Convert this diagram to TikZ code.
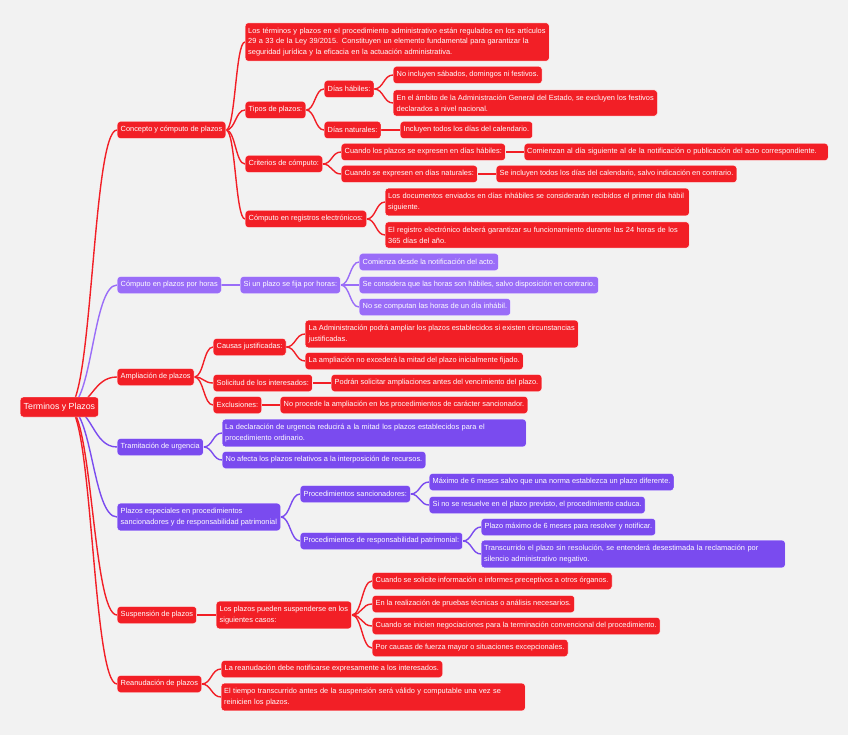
\documentclass[tikz,border=0pt]{standalone}
\usepackage{fontspec}
\setmainfont{Liberation Sans}
\usepackage{tikz}
\usetikzlibrary{calc,backgrounds}
\definecolor{mmred}{HTML}{F21F26}
\definecolor{mmlilac}{HTML}{9A6DF8}
\definecolor{mmviolet}{HTML}{7A4BEF}
\definecolor{mmbg}{HTML}{F2F2F2}

\begin{document}
\begin{tikzpicture}[x=1pt, y=-1pt,
    every node/.style={font=\fontsize{7.4}{10.7}\selectfont, text=white, anchor=west},
    box/.style={rounded corners=3pt, draw=white, line width=0.4pt,
                inner xsep=3.5pt, inner ysep=5pt, minimum height=17pt, align=left},
    redbox/.style={box, fill=mmred},
    lilbox/.style={box, fill=mmlilac},
    violbox/.style={box, fill=mmviolet},
    wide/.style={text width=298pt, inner xsep=3pt},
    redlink/.style={draw=mmred, line width=1.4pt},
    lillink/.style={draw=mmlilac, line width=1.4pt},
    viollink/.style={draw=mmviolet, line width=1.4pt},
    link/.style={to path={.. controls ($(\tikztostart)!0.5!(\tikztostart -| \tikztotarget)$)
                 and ($(\tikztotarget)!0.5!(\tikztotarget -| \tikztostart)$) .. (\tikztotarget)}}
]
\begin{pgfonlayer}{background}
\fill[mmbg] (0,0) rectangle (848,735);
\end{pgfonlayer}
\useasboundingbox (0,0) rectangle (848,735);

% root and main branches
\node[redbox, font=\fontsize{8.8}{11}\selectfont, minimum height=20pt] (root) at (20,407) {Terminos y Plazos};
\coordinate (hub) at (68,407);
\node[redbox]  (concepto) at (117,130) {Concepto y cómputo de plazos};
\node[lilbox]  (horas)    at (117,285) {Cómputo en plazos por horas};
\node[redbox]  (ampl)     at (117,377) {Ampliación de plazos};
\node[violbox] (urg)      at (117,447) {Tramitación de urgencia};
\node[violbox] (esp)      at (117,517) {Plazos especiales en procedimientos\\sancionadores y de responsabilidad patrimonial};
\node[redbox]  (susp)     at (117,615) {Suspensión de plazos};
\node[redbox]  (rean)     at (117,684) {Reanudación de plazos};

% concepto y computo
\node[redbox, wide] (regul) at (245,42) {Los términos y plazos en el procedimiento administrativo están regulados en los artículos\\29 a 33 de la Ley 39/2015. Constituyen un elemento fundamental para garantizar la\\seguridad jurídica y la eficacia en la actuación administrativa.};
\node[redbox] (tipos) at (245,110) {Tipos de plazos:};
\node[redbox] (crit)  at (245,164) {Criterios de cómputo:};
\node[redbox] (reg)   at (245,219) {Cómputo en registros electrónicos:};
\node[redbox] (habiles)   at (324,89)  {Días hábiles:};
\node[redbox] (naturales) at (324,130) {Días naturales:};
\node[redbox] (hab1) at (393,75)  {No incluyen sábados, domingos ni festivos.};
\node[redbox] (hab2) at (393,103) {En el ámbito de la Administración General del Estado, se excluyen los festivos\\declarados a nivel nacional.};
\node[redbox] (nat1) at (400,130) {Incluyen todos los días del calendario.};
\node[redbox] (crit1)  at (341,152) {Cuando los plazos se expresen en días hábiles:};
\node[redbox] (crit2)  at (341,174) {Cuando se expresen en días naturales:};
\node[redbox, wide] (crit1a) at (524,152) {Comienzan al día siguiente al de la notificación o publicación del acto correspondiente.};
\node[redbox] (crit2a) at (496,174) {Se incluyen todos los días del calendario, salvo indicación en contrario.};
\node[redbox, wide] (reg1) at (385,202) {Los documentos enviados en días inhábiles se considerarán recibidos el primer día hábil\\siguiente.};
\node[redbox, wide] (reg2) at (385,235) {El registro electrónico deberá garantizar su funcionamiento durante las 24 horas de los\\365 días del año.};

% horas
\node[lilbox] (hora)  at (240,285) {Si un plazo se fija por horas:};
\node[lilbox] (hora1) at (359,262) {Comienza desde la notificación del acto.};
\node[lilbox] (hora2) at (359,285) {Se considera que las horas son hábiles, salvo disposición en contrario.};
\node[lilbox] (hora3) at (359,307) {No se computan las horas de un día inhábil.};

% ampliacion
\node[redbox] (causas) at (213,347) {Causas justificadas:};
\node[redbox] (solic)  at (213,383) {Solicitud de los interesados:};
\node[redbox] (excl)   at (213,405) {Exclusiones:};
\node[redbox] (causas1) at (305,334) {La Administración podrá ampliar los plazos establecidos si existen circunstancias\\justificadas.};
\node[redbox] (causas2) at (305,361) {La ampliación no excederá la mitad del plazo inicialmente fijado.};
\node[redbox] (solic1)  at (331,383) {Podrán solicitar ampliaciones antes del vencimiento del plazo.};
\node[redbox] (excl1)   at (280,405) {No procede la ampliación en los procedimientos de carácter sancionador.};

% urgencia
\node[violbox, wide] (urg1) at (222,433) {La declaración de urgencia reducirá a la mitad los plazos establecidos para el\\procedimiento ordinario.};
\node[violbox] (urg2) at (222,460) {No afecta los plazos relativos a la interposición de recursos.};

% plazos especiales
\node[violbox] (sanc)  at (300,494) {Procedimientos sancionadores:};
\node[violbox] (resp)  at (300,541) {Procedimientos de responsabilidad patrimonial:};
\node[violbox] (sanc1) at (429,482) {Máximo de 6 meses salvo que una norma establezca un plazo diferente.};
\node[violbox] (sanc2) at (429,505) {Si no se resuelve en el plazo previsto, el procedimiento caduca.};
\node[violbox] (resp1) at (481,527) {Plazo máximo de 6 meses para resolver y notificar.};
\node[violbox, wide] (resp2) at (481,554) {Transcurrido el plazo sin resolución, se entenderá desestimada la reclamación por\\silencio administrativo negativo.};

% suspension
\node[redbox] (casos) at (216,615) {Los plazos pueden suspenderse en los\\siguientes casos:};
\node[redbox] (caso1) at (372,581) {Cuando se solicite información o informes preceptivos a otros órganos.};
\node[redbox] (caso2) at (372,604) {En la realización de pruebas técnicas o análisis necesarios.};
\node[redbox] (caso3) at (372,626) {Cuando se inicien negociaciones para la terminación convencional del procedimiento.};
\node[redbox] (caso4) at (372,648) {Por causas de fuerza mayor o situaciones excepcionales.};

% reanudacion
\node[redbox] (rean1) at (221,669) {La reanudación debe notificarse expresamente a los interesados.};
\node[redbox, wide] (rean2) at (221,697) {El tiempo transcurrido antes de la suspensión será válido y computable una vez se\\reinicien los plazos.};

% connectors
\begin{pgfonlayer}{background}
\draw[redlink]  (hub) to[link] (concepto.west);
\draw[lillink]  (hub) to[link] (horas.west);
\draw[redlink]  (hub) to[link] (ampl.west);
\draw[viollink] (hub) to[link] (urg.west);
\draw[viollink] (hub) to[link] (esp.west);
\draw[redlink]  (hub) to[link] (susp.west);
\draw[redlink]  (hub) to[link] (rean.west);

\draw[redlink] (concepto.east) to[link] (regul.west);
\draw[redlink] (concepto.east) to[link] (tipos.west);
\draw[redlink] (concepto.east) to[link] (crit.west);
\draw[redlink] (concepto.east) to[link] (reg.west);
\draw[redlink] (tipos.east) to[link] (habiles.west);
\draw[redlink] (tipos.east) to[link] (naturales.west);
\draw[redlink] (habiles.east) to[link] (hab1.west);
\draw[redlink] (habiles.east) to[link] (hab2.west);
\draw[redlink] (naturales.east) -- (nat1.west);
\draw[redlink] (crit.east) to[link] (crit1.west);
\draw[redlink] (crit.east) to[link] (crit2.west);
\draw[redlink] (crit1.east) -- (crit1a.west);
\draw[redlink] (crit2.east) -- (crit2a.west);
\draw[redlink] (reg.east) to[link] (reg1.west);
\draw[redlink] (reg.east) to[link] (reg2.west);

\draw[lillink] (horas.east) -- (hora.west);
\draw[lillink] (hora.east) to[link] (hora1.west);
\draw[lillink] (hora.east) to[link] (hora2.west);
\draw[lillink] (hora.east) to[link] (hora3.west);

\draw[redlink] (ampl.east) to[link] (causas.west);
\draw[redlink] (ampl.east) to[link] (solic.west);
\draw[redlink] (ampl.east) to[link] (excl.west);
\draw[redlink] (causas.east) to[link] (causas1.west);
\draw[redlink] (causas.east) to[link] (causas2.west);
\draw[redlink] (solic.east) -- (solic1.west);
\draw[redlink] (excl.east) -- (excl1.west);

\draw[viollink] (urg.east) to[link] (urg1.west);
\draw[viollink] (urg.east) to[link] (urg2.west);

\draw[viollink] (esp.east) to[link] (sanc.west);
\draw[viollink] (esp.east) to[link] (resp.west);
\draw[viollink] (sanc.east) to[link] (sanc1.west);
\draw[viollink] (sanc.east) to[link] (sanc2.west);
\draw[viollink] (resp.east) to[link] (resp1.west);
\draw[viollink] (resp.east) to[link] (resp2.west);

\draw[redlink] (susp.east) -- (casos.west);
\draw[redlink] (casos.east) to[link] (caso1.west);
\draw[redlink] (casos.east) to[link] (caso2.west);
\draw[redlink] (casos.east) to[link] (caso3.west);
\draw[redlink] (casos.east) to[link] (caso4.west);

\draw[redlink] (rean.east) to[link] (rean1.west);
\draw[redlink] (rean.east) to[link] (rean2.west);
\end{pgfonlayer}
\end{tikzpicture}
\end{document}
